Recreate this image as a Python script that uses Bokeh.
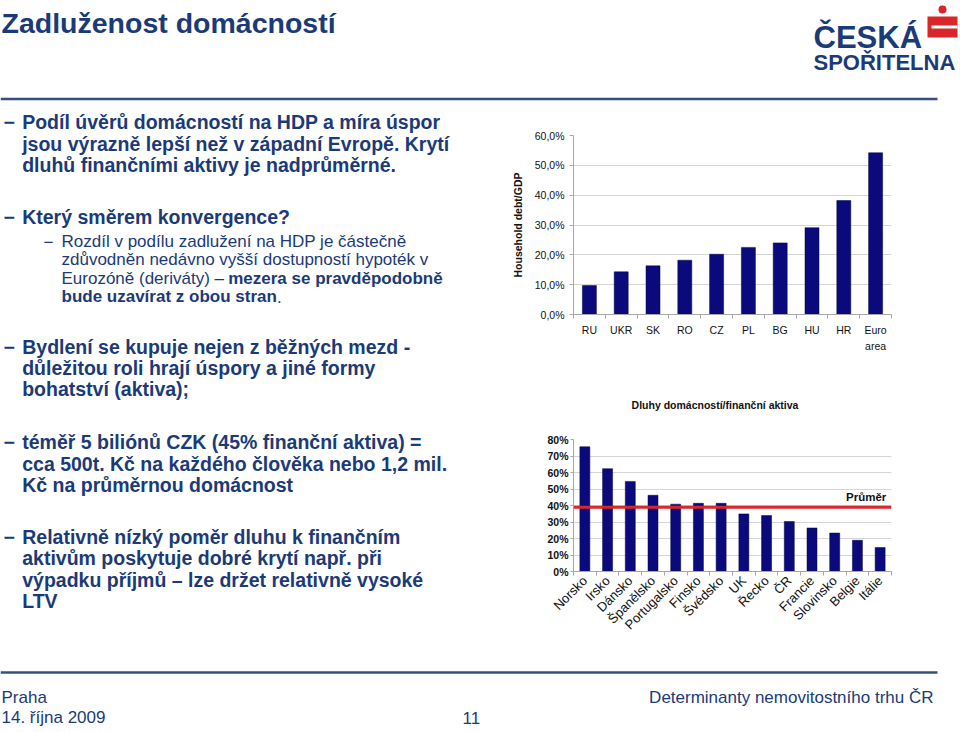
import numpy as np
from bokeh.plotting import figure
from bokeh.layouts import column, row
from bokeh.models import Range1d, FixedTicker, Span, Label, LinearAxis
from bokeh.embed import file_html
from bokeh.resources import INLINE
from bokeh.core.properties import value

# ---------------- data ----------------
cee_countries = ["RU", "UKR", "SK", "RO", "CZ", "PL", "BG", "HU", "HR", "Euro area"]
household_debt_gdp = [9.7, 14.3, 16.3, 18.2, 20.2, 22.5, 24.0, 29.1, 38.2, 54.2]
y1_ticks = [0, 10, 20, 30, 40, 50, 60]
y1_tick_labels = ["0,0%", "10,0%", "20,0%", "30,0%", "40,0%", "50,0%", "60,0%"]

eu_countries = ["Norsko", "Irsko", "Dánsko", "Španělsko", "Portugalsko", "Finsko",
                "Švédsko", "UK", "Řecko", "ČR", "Francie", "Slovinsko", "Belgie", "Itálie"]
debt_to_fin_assets = [75.6, 62.3, 54.6, 46.2, 40.8, 41.3, 41.3, 34.9, 33.9, 30.3,
                      26.4, 23.3, 18.9, 14.5]
average_ratio = 39.0
y2_ticks = [0, 10, 20, 30, 40, 50, 60, 70, 80]
y2_tick_labels = ["0%", "10%", "20%", "30%", "40%", "50%", "60%", "70%", "80%"]

title_text = "Zadluženost domácností"
chart1_ylabel = "Household debt/GDP"
chart2_title = "Dluhy domácností/finanční aktiva"
average_label = "Průměr"

# ---------------- styles ----------------
FONT = "Liberation Sans"
NAVY = "#1B3A78"
BAR = "#0A0A7C"
BAR_EDGE = "#05053F"
RED = "#D8262B"
GRID = "#D6D6D6"
AXIS = "#A8A8A8"
RULE = "#34507F"
INK = "#111111"


def canvas(w, h):
    p = figure(width=w, height=h, x_range=Range1d(0, w), y_range=Range1d(h, 0),
               x_axis_type=None, y_axis_type=None, output_backend="svg",
               toolbar_location=None, min_border=0)
    p.outline_line_color = None
    p.grid.visible = False
    return p


def txt(p, x, y, s, size, bold=False, color=NAVY, align="left", baseline="middle"):
    p.text(x=[x], y=[y], text=[s], text_font=value(FONT), text_font_size=size,
           text_font_style="bold" if bold else "normal", text_color=color,
           text_align=align, text_baseline=baseline)


# ---------------- header (page y 0..105) ----------------
header = canvas(960, 105)
txt(header, 1, 22, title_text, "28.5px", bold=True)
header.segment(x0=[0], y0=[98.5], x1=[937], y1=[98.5], line_color=RULE, line_width=2.5)
# logo
txt(header, 813, 36.7, "ČESKÁ", "31px", bold=True, baseline="alphabetic")
txt(header, 813, 61.7, "SPOŘITELNA", "22px", bold=True, baseline="alphabetic")
header.quad(left=[927], right=[957], top=[16], bottom=[37], fill_color=RED, line_color=None)
header.quad(left=[931], right=[957], top=[25], bottom=[28], fill_color="white", line_color=None)
header.scatter(x=[942], y=[9], size=8, fill_color=RED, line_color=None)

# ---------------- left text (page y 105..640) ----------------
left = canvas(505, 535)
MAIN = "19.5px"
SUB = "17px"
main_lines = [
    (16.7, "Podíl úvěrů domácností na HDP a míra úspor", True),
    (38.3, "jsou výrazně lepší než v západní Evropě. Krytí", False),
    (59.3, "dluhů finančními aktivy je nadprůměrné.", False),
    (111.7, "Který směrem konvergence?", True),
    (241.7, "Bydlení se kupuje nejen z běžných mezd -", True),
    (262.7, "důležitou roli hrají úspory a jiné formy", False),
    (283.7, "bohatství (aktiva);", False),
    (336.7, "téměř 5 biliónů CZK (45% finanční aktiva) =", True),
    (358.3, "cca 500t. Kč na každého člověka nebo 1,2 mil.", False),
    (379.0, "Kč na průměrnou domácnost", False),
    (431.7, "Relativně nízký poměr dluhu k finančním", True),
    (452.3, "aktivům poskytuje dobré krytí např. při", False),
    (474.3, "výpadku příjmů – lze držet relativně vysoké", False),
    (495.0, "LTV", False),
]
for y, s, dash in main_lines:
    if dash:
        txt(left, 3, y, "−", MAIN, bold=True)
    txt(left, 21.7, y, s, MAIN, bold=True)

txt(left, 43, 136, "−", SUB)
txt(left, 61, 136, "Rozdíl v podílu zadlužení na HDP je částečně", SUB)
txt(left, 61, 154.3, "zdůvodněn nedávno vyšší dostupností hypoték v", SUB)
txt(left, 61, 172.7, "Eurozóně (deriváty) – ", SUB)
txt(left, 227.7, 172.7, "mezera se pravděpodobně", SUB, bold=True)
txt(left, 61, 191, "bude uzavírat z obou stran", SUB, bold=True)
txt(left, 276.5, 191, ".", SUB)


def style_axes(p, size):
    for ax in (p.xaxis, p.yaxis):
        ax.axis_line_color = AXIS
        ax.major_tick_line_color = AXIS
        ax.minor_tick_line_color = None
        ax.major_label_text_font = FONT
        ax.major_label_text_font_size = size
        ax.major_label_text_color = INK
    p.xgrid.visible = False
    p.ygrid.grid_line_color = GRID
    p.outline_line_color = None


def category_axis(p, names, shown):
    n = len(names)
    centers = [i + 0.5 for i in range(n)]
    ax = p.xaxis[0]
    ax.ticker = FixedTicker(ticks=centers, minor_ticks=list(range(n + 1)))
    ax.major_label_overrides = {c: s for c, s in zip(centers, shown)}
    ax.major_tick_out = 0
    ax.major_tick_in = 0
    ax.minor_tick_line_color = AXIS
    ax.minor_tick_out = 4
    ax.minor_tick_in = 0
    return centers


# ---------------- chart 1 (page x 505..960, y 105..395) ----------------
p1 = figure(width=455, height=290, x_range=Range1d(0, len(cee_countries)),
            y_range=Range1d(0, 60), output_backend="svg", toolbar_location=None)
p1.min_border_left = 68
p1.min_border_right = 56
p1.min_border_top = 30
p1.min_border_bottom = 81
style_axes(p1, "10.5px")
first_line = [c.split(" ")[0] for c in cee_countries]
second_line = [" ".join(c.split(" ")[1:]) for c in cee_countries]
cee_x = category_axis(p1, cee_countries, first_line)
p1.vbar(x=cee_x, top=household_debt_gdp, width=0.44, fill_color=BAR,
        line_color=BAR_EDGE, line_width=0.5)
wrap_x = [x for x, s in zip(cee_x, second_line) if s]
wrap_s = [s for s in second_line if s]
ax_wrap = LinearAxis(ticker=FixedTicker(ticks=wrap_x, minor_ticks=[]),
                     major_label_overrides={x: s for x, s in zip(wrap_x, wrap_s)},
                     axis_line_color=None, major_tick_line_color=None,
                     minor_tick_line_color=None, major_tick_out=0, major_tick_in=0,
                     minor_tick_out=0, minor_tick_in=0, major_label_standoff=1,
                     major_label_text_font=FONT, major_label_text_font_size="10.5px",
                     major_label_text_color=INK)
p1.add_layout(ax_wrap, "below")
p1.xaxis[0].major_label_standoff = 5
p1.yaxis.ticker = FixedTicker(ticks=y1_ticks)
p1.yaxis.major_label_overrides = {t: l for t, l in zip(y1_ticks, y1_tick_labels)}
p1.yaxis.axis_label = chart1_ylabel
p1.yaxis.axis_label_text_font = FONT
p1.yaxis.axis_label_text_font_size = "10.5px"
p1.yaxis.axis_label_text_font_style = "bold"
p1.yaxis.axis_label_text_color = INK
p1.yaxis.axis_label_standoff = 8
p1.yaxis.major_tick_out = 4
p1.yaxis.major_tick_in = 0
p1.yaxis.major_label_standoff = 5

# ---------------- caption for chart 2 (page y 395..415) ----------------
cap = canvas(455, 20)
txt(cap, 202.5, 9, chart2_title, "10.5px", bold=True, color=INK, align="center")

# ---------------- chart 2 (page x 505..960, y 415..640) ----------------
p2 = figure(width=455, height=225, x_range=Range1d(0, len(eu_countries)),
            y_range=Range1d(0, 80), output_backend="svg", toolbar_location=None)
p2.min_border_left = 46
p2.min_border_right = 69
p2.min_border_top = 24
p2.min_border_bottom = 67
style_axes(p2, "10.5px")
eu_x = category_axis(p2, eu_countries, eu_countries)
p2.vbar(x=eu_x, top=debt_to_fin_assets, width=0.44, fill_color=BAR,
        line_color=BAR_EDGE, line_width=0.5)
p2.xaxis.major_label_text_font_size = "13px"
p2.xaxis.major_label_standoff = 3
p2.xaxis.major_label_orientation = np.pi / 4
p2.yaxis.ticker = FixedTicker(ticks=y2_ticks)
p2.yaxis.major_label_overrides = {t: l for t, l in zip(y2_ticks, y2_tick_labels)}
p2.yaxis.major_label_text_font_style = "bold"
p2.yaxis.major_tick_out = 3
p2.yaxis.major_tick_in = 0
p2.yaxis.major_label_standoff = 2
p2.add_layout(Span(location=average_ratio, dimension="width", line_color=RED, line_width=3))
p2.add_layout(Label(x=12.0, y=average_ratio + 6, text=average_label, text_font=FONT,
                    text_font_size="11.5px", text_font_style="bold", text_color=INK,
                    text_baseline="middle"))

# ---------------- footer (page y 640..732) ----------------
footer = canvas(960, 92)
footer.segment(x0=[0], y0=[32], x1=[937], y1=[32], line_color=RULE, line_width=2.5)
txt(footer, 1, 57, "Praha", "17px")
txt(footer, 1, 77, "14. října 2009", "17px")
txt(footer, 462, 77, "11", "17px")
txt(footer, 933, 57, "Determinanty nemovitostního trhu ČR", "17px", align="right")

layout = column(header,
                row(left, column(p1, cap, p2, spacing=0), spacing=0),
                footer, spacing=0)

with open("out.html", "w") as f:
    f.write(file_html(layout, INLINE))
